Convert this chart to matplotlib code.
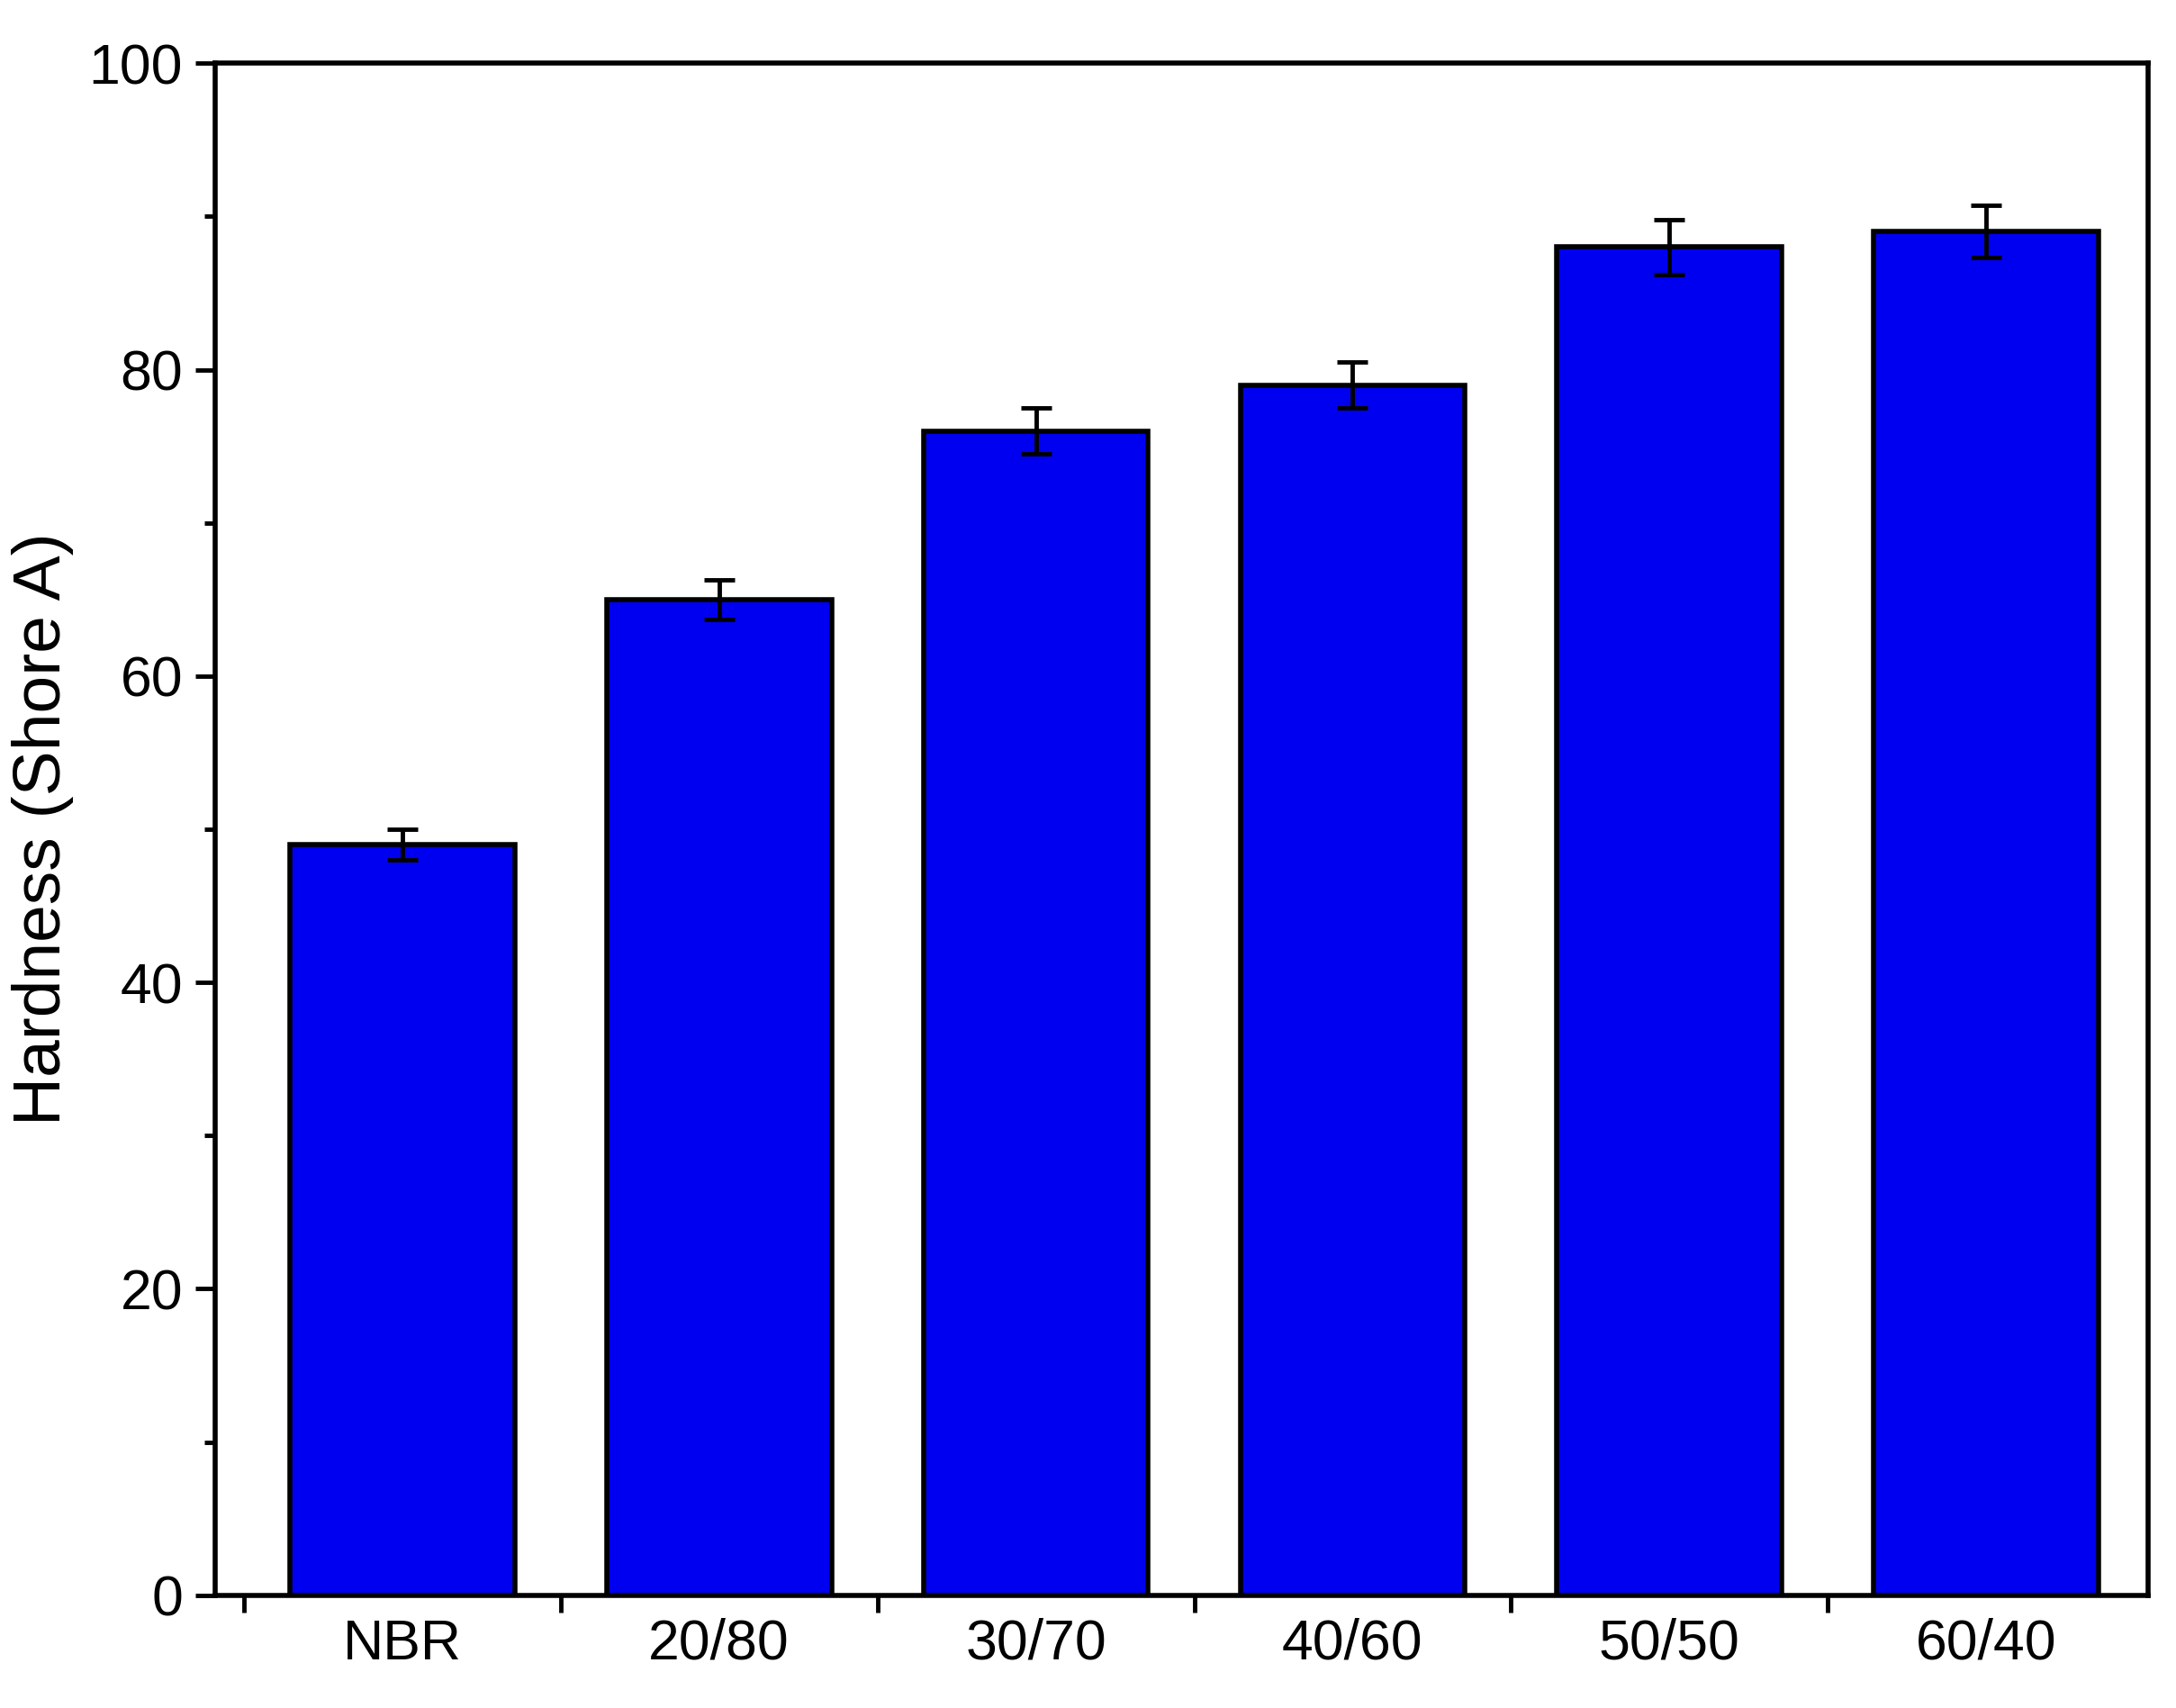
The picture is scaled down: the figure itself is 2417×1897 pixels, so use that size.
import matplotlib.pyplot as plt
import numpy as np
from matplotlib.ticker import MultipleLocator, FixedLocator

plt.rcParams['font.family'] = ['Liberation Sans', 'DejaVu Sans']

labels = ['NBR', '20/80', '30/70', '40/60', '50/50', '60/40']
hardness = [49, 65, 76, 79, 88, 89]
errors = [1.0, 1.3, 1.5, 1.5, 1.8, 1.7]

fig = plt.figure(figsize=(24.17, 18.97), dpi=100)
ax = fig.add_axes([0.099, 0.066, 0.888, 0.897])

x = np.arange(len(labels))
ax.bar(x, hardness, width=0.71, color='#0000f0', edgecolor='black', linewidth=4,
       yerr=errors, capsize=12, error_kw=dict(elinewidth=3.5, capthick=3.5, ecolor='black'))

ax.set_xlim(-0.59, 5.51)
ax.set_ylim(0, 100)
ax.set_xticks(x)
ax.set_xticklabels(labels)
ax.xaxis.set_minor_locator(FixedLocator(np.append(x - 0.5, 5.5)[:-1]))
ax.tick_params(axis='x', which='major', length=0, pad=18)
ax.tick_params(axis='x', which='minor', length=14, width=3.5, direction='out')
ax.yaxis.set_major_locator(MultipleLocator(20))
ax.yaxis.set_minor_locator(MultipleLocator(10))
ax.tick_params(axis='y', which='major', length=16, width=3.5, direction='out', pad=10)
ax.tick_params(axis='y', which='minor', length=9, width=3.5, direction='out')
ax.tick_params(labelsize=45)
for s in ax.spines.values():
    s.set_linewidth(4)
ax.set_ylabel('Hardness (Shore A)', fontsize=54, labelpad=12)

fig.savefig('out.png', dpi=100)
